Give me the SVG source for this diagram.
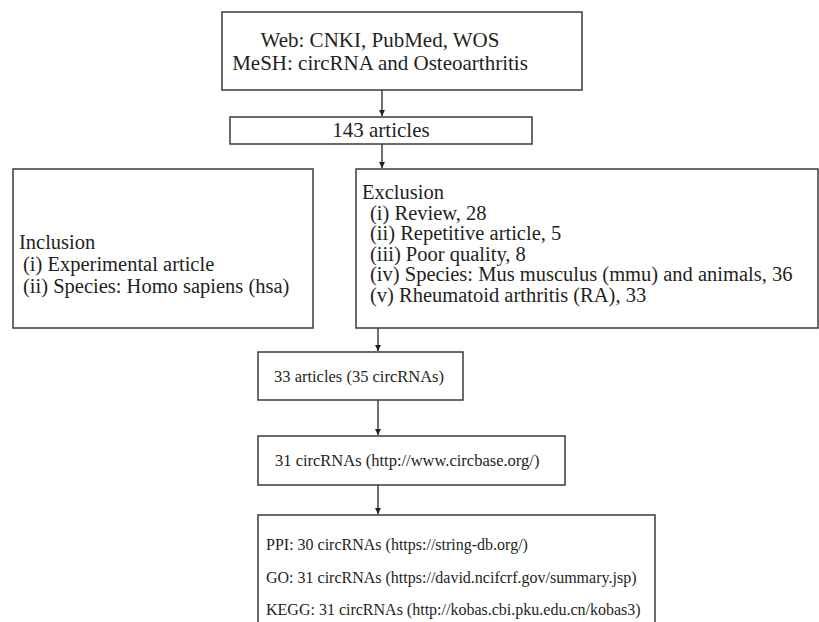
<svg xmlns="http://www.w3.org/2000/svg" width="819" height="622" viewBox="0 0 819 622">
<defs>
<style>
.box{fill:#fff;stroke:#3a3a3a;stroke-width:1.5}
.t{font-family:"Liberation Serif","Times New Roman",serif;font-size:21px;fill:#231f20}
.m{font-size:20.5px}
.s{font-size:16.5px}
.xs{font-size:16px}
.c{text-anchor:middle}
.conn{stroke:#231f20;stroke-width:1.3;fill:none;marker-end:url(#ah)}
</style>
<marker id="ah" markerWidth="8" markerHeight="8" refX="6" refY="3" orient="auto" markerUnits="userSpaceOnUse">
<path d="M0,0 L6,3 L0,6 z" fill="#231f20"/>
</marker>
</defs>
<rect width="819" height="622" fill="#fff"/>
<g id="connectors">
<line class="conn" x1="382" y1="90" x2="382" y2="116"/>
<line class="conn" x1="382" y1="144" x2="382" y2="168"/>
<line class="conn" x1="378" y1="328" x2="378" y2="351"/>
<line class="conn" x1="378" y1="400" x2="378" y2="435"/>
<line class="conn" x1="378" y1="485" x2="378" y2="514"/>
</g>
<g id="search">
<rect class="box" x="222" y="12" width="360" height="78"/>
<text class="t c" x="380" y="47">Web: CNKI, PubMed, WOS</text>
<text class="t c" x="380" y="70">MeSH: circRNA and Osteoarthritis</text>
</g>
<g id="articles143">
<rect class="box" x="230" y="117" width="302" height="27"/>
<text class="t c" x="381" y="137">143 articles</text>
</g>
<g id="inclusion">
<rect class="box" x="13" y="169" width="300" height="159"/>
<text class="t m" x="19" y="249">Inclusion</text>
<text class="t m" x="23" y="271">(i) Experimental article</text>
<text class="t m" x="23" y="293">(ii) Species: Homo sapiens (hsa)</text>
</g>
<g id="exclusion">
<rect class="box" x="356" y="169" width="462" height="159"/>
<text class="t m" x="362" y="199">Exclusion</text>
<text class="t m" x="370" y="219.5">(i) Review, 28</text>
<text class="t m" x="370" y="240">(ii) Repetitive article, 5</text>
<text class="t m" x="370" y="260.5">(iii) Poor quality, 8</text>
<text class="t m" x="370" y="281">(iv) Species: Mus musculus (mmu) and animals, 36</text>
<text class="t m" x="370" y="301.5">(v) Rheumatoid arthritis (RA), 33</text>
</g>
<g id="articles33">
<rect class="box" x="258" y="352" width="205" height="48"/>
<text class="t s" x="274" y="382">33 articles (35 circRNAs)</text>
</g>
<g id="circbase">
<rect class="box" x="258" y="436" width="307" height="49"/>
<text class="t s" x="275" y="466">31 circRNAs (http://www.circbase.org/)</text>
</g>
<g id="analysis">
<rect class="box" x="258" y="515" width="397" height="120"/>
<text class="t xs" x="266" y="550">PPI: 30 circRNAs (https://string-db.org/)</text>
<text class="t xs" x="266" y="583">GO: 31 circRNAs (https://david.ncifcrf.gov/summary.jsp)</text>
<text class="t xs" x="266" y="615">KEGG: 31 circRNAs (http://kobas.cbi.pku.edu.cn/kobas3)</text>
</g>
</svg>
